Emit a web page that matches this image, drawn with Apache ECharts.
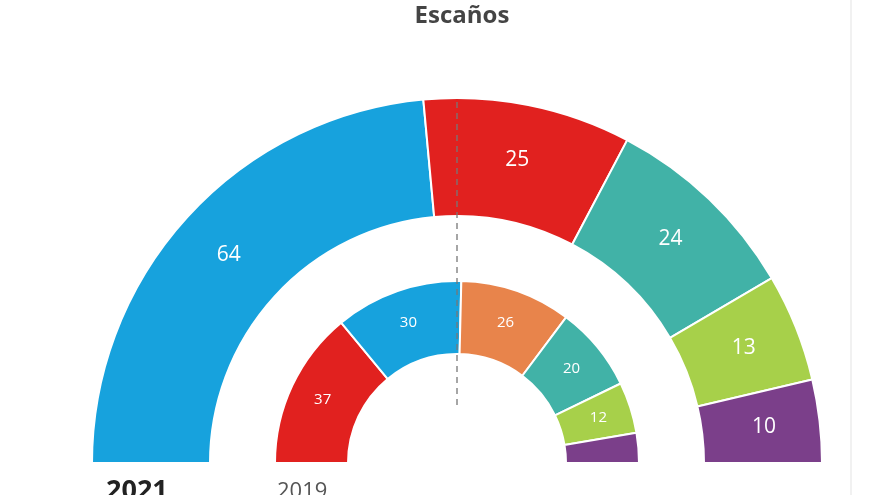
<!DOCTYPE html>
<html>
<head>
    <meta charset="utf-8">
    <script type="text/javascript" src="https://cdn.jsdelivr.net/npm/echarts@6/dist/echarts.min.js"></script>
    <style>
        html, body {
            margin: 0;
            padding: 0;
            background: #fff;
        }

        #container {
            width: 880px;
            height: 495px;
        }
    </style>
</head>
<body>
    <div id="container"></div>
</body>
<script type="text/javascript">
    // escaños 2021 (anillo exterior) y 2019 (anillo interior)
    var seats2021 = [64, 25, 24, 13, 10];
    var colors2021 = ['#17a2dd', '#e1211f', '#41b2a7', '#a7d04a', '#7b3f8a'];
    var seats2019 = [37, 30, 26, 20, 12, 7];
    var colors2019 = ['#e1211f', '#17a2dd', '#e8844b', '#41b2a7', '#a7d04a', '#7b3f8a'];
    var yearLabels = ['2021', '2019'];

    var cx = 457, cy = 463;

    function buildData(values, colors, minLabel) {
        return values.map(function (v, i) {
            return {
                value: v,
                itemStyle: { color: colors[i] },
                label: { show: v >= minLabel }
            };
        });
    }

    var chart = echarts.init(document.getElementById('container'), null, { renderer: 'canvas' });
    var option = {
        backgroundColor: '#fff',
        animation: false,
        title: {
            text: 'Escaños',
            left: cx,
            textAlign: 'center',
            top: -1,
            textStyle: {
                fontFamily: 'Open Sans',
                fontWeight: 'bold',
                fontSize: 24,
                color: '#444'
            }
        },
        graphic: [{
            type: 'line',
            z: 10,
            shape: { x1: cx, y1: 102, x2: cx, y2: 405 },
            style: { stroke: '#777', lineWidth: 1.3, lineDash: [6, 5] }
        }, {
            type: 'line',
            shape: { x1: 851, y1: 0, x2: 851, y2: 495 },
            style: { stroke: '#ececec', lineWidth: 1.5 }
        }, {
            type: 'text',
            left: 106,
            top: 478,
            style: {
                text: yearLabels[0],
                font: 'bold 27px "Open Sans"',
                fill: '#222'
            }
        }, {
            type: 'text',
            left: 277,
            top: 481,
            style: {
                text: yearLabels[1],
                font: '22px "Open Sans"',
                fill: '#555'
            }
        }],
        series: [{
            name: '2021',
            type: 'pie',
            center: [cx, cy],
            radius: [247, 365],
            startAngle: 180,
            endAngle: 0,
            clockwise: true,
            silent: true,
            itemStyle: { borderColor: '#fff', borderWidth: 2 },
            label: {
                position: 'inside',
                formatter: '{c}',
                color: '#fff',
                fontFamily: 'Open Sans',
                fontSize: 21
            },
            labelLine: { show: false },
            data: buildData(seats2021, colors2021, 1)
        }, {
            name: '2019',
            type: 'pie',
            center: [cx, cy],
            radius: [109, 182],
            startAngle: 180,
            endAngle: 0,
            clockwise: true,
            silent: true,
            itemStyle: { borderColor: '#fff', borderWidth: 2 },
            label: {
                position: 'inside',
                formatter: '{c}',
                color: '#fff',
                fontFamily: 'Open Sans',
                fontSize: 15
            },
            labelLine: { show: false },
            data: buildData(seats2019, colors2019, 10)
        }]
    };
    chart.setOption(option);
</script>
</html>
